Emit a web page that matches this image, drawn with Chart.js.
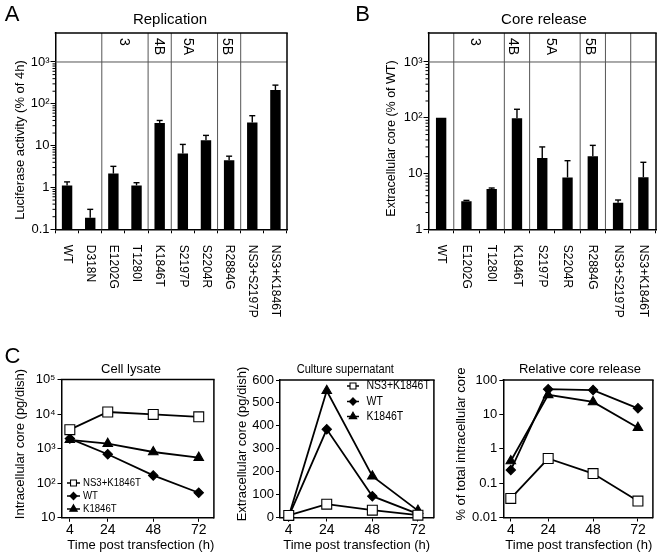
<!DOCTYPE html>
<html><head><meta charset="utf-8">
<script src="https://cdn.jsdelivr.net/npm/chart.js"></script>
<style>
html,body{margin:0;padding:0;background:#fff;}
#wrap{position:relative;width:661px;height:554px;overflow:hidden;background:#fff;}
canvas{position:absolute;}
</style></head><body>
<div id="wrap">
<canvas id="cA" width="330" height="330" style="left:0px;top:0px;width:330px;height:330px"></canvas>
<canvas id="cB" width="331" height="330" style="left:330px;top:0px;width:331px;height:330px"></canvas>
<canvas id="c1" width="222" height="224" style="left:0px;top:330px;width:222px;height:224px"></canvas>
<canvas id="c2" width="220" height="224" style="left:222px;top:330px;width:220px;height:224px"></canvas>
<canvas id="c3" width="219" height="224" style="left:442px;top:330px;width:219px;height:224px"></canvas>
</div>
<script>
// ================= DATA =================
// Panel A: Replication
const catsA = ['WT','D318N','E1202G','T1280I','K1846T','S2197P','S2204R','R2884G','NS3+S2197P','NS3+K1846T'];
const valsA = [1.12, 0.19, 2.15, 1.12, 35, 6.5, 13.5, 4.5, 36, 213];
const errA  = [1.36, 0.30, 3.2, 1.3, 40, 10.7, 17.6, 5.6, 52, 280];
const groupsA = ['3','4B','5A','5B'];
const sepsA = [2,4,5,7,8];
const yTicksA = [0.1, 1, 10, 100, 1000];
const yTickLabelsA = ['0.1','1','10','10²','10³'];

// Panel B: Core release
const catsB = ['WT','E1202G','T1280I','K1846T','S2197P','S2204R','R2884G','NS3+S2197P','NS3+K1846T'];
const valsB = [100, 3.2, 5.3, 98, 19, 8.5, 20.5, 3.0, 8.6];
const errB  = [null, 3.3, 5.5, 142, 30, 17, 32, 3.35, 15.9];
const groupsB = ['3','4B','5A','5B'];
const sepsB = [1,3,4,6,7,8];
const yTicksB = [1, 10, 100, 1000];
const yTickLabelsB = ['1','10','10²','10³'];

// Panel C: time course
const timesC = [4, 24, 48, 72];
const seriesNames = ['NS3+K1846T','WT','K1846T'];
const lysateNS3K = [3550, 11500, 9800, 8300];
const lysateWT   = [1950, 690, 168, 53];
const lysateK    = [1800, 1390, 800, 550];
const superNS3K  = [9, 58, 32, 10];
const superWT    = [5, 385, 93, 16];
const superK     = [5, 553, 180, 30];
const relNS3K    = [0.036, 0.52, 0.19, 0.030];
const relWT      = [0.24, 54, 51, 15];
const relK       = [0.44, 37, 23, 4.1];
const yTicksC1 = [10, 100, 1000, 10000, 100000];
const yTickLabelsC1 = ['10','10²','10³','10⁴','10⁵'];
const yTicksC2 = [0, 100, 200, 300, 400, 500, 600];
const yTickLabelsC2 = ['0','100','200','300','400','500','600'];
const yTicksC3 = [0.01, 0.1, 1, 10, 100];
const yTickLabelsC3 = ['0.01','0.1','1','10','100'];

// ================= HELPERS =================
const FONT = '"Liberation Sans", Arial, Helvetica, sans-serif';

function txt(ctx, s, x, y, font, o) {
  o = o || {};
  ctx.save();
  ctx.font = font; ctx.fillStyle = '#000';
  ctx.textAlign = o.align || 'center';
  ctx.textBaseline = o.base || 'middle';
  ctx.translate(x, y);
  if (o.rot) ctx.rotate(o.rot);
  if (o.sx) ctx.scale(o.sx, 1);
  ctx.fillText(s, 0, 0);
  ctx.restore();
}
function seg(ctx, x1, y1, x2, y2) { ctx.beginPath(); ctx.moveTo(x1, y1); ctx.lineTo(x2, y2); ctx.stroke(); }

function marker(ctx, style, x, y, r, fill) {
  ctx.save();
  ctx.fillStyle = fill; ctx.strokeStyle = '#000'; ctx.lineWidth = 1.1;
  ctx.beginPath();
  if (style === 'rect') {
    const s = Math.SQRT1_2 * r; ctx.rect(x - s, y - s, 2 * s, 2 * s);
  } else if (style === 'rectRot') {
    ctx.moveTo(x, y - r); ctx.lineTo(x + r, y); ctx.lineTo(x, y + r); ctx.lineTo(x - r, y); ctx.closePath();
  } else {
    let a = 0;
    ctx.moveTo(x + Math.sin(a) * r, y - Math.cos(a) * r);
    a += 2 * Math.PI / 3; ctx.lineTo(x + Math.sin(a) * r, y - Math.cos(a) * r);
    a += 2 * Math.PI / 3; ctx.lineTo(x + Math.sin(a) * r, y - Math.cos(a) * r);
    ctx.closePath();
  }
  ctx.fill(); ctx.stroke();
  ctx.restore();
}

const decor = {
  id: 'decor',
  afterDraw(chart, args, o) {
    const ctx = chart.ctx, a = chart.chartArea, x = chart.scales.x, y = chart.scales.y;
    ctx.save();
    if (o.kind === 'bar') {
      const bnd = i => (x.getPixelForValue(i - 1) + x.getPixelForValue(i)) / 2;
      ctx.strokeStyle = '#555'; ctx.lineWidth = 1;
      const yh = y.getPixelForValue(o.headerValue);
      seg(ctx, a.left, yh, a.right, yh);
      o.seps.forEach(i => { const xs = bnd(i); seg(ctx, xs, a.top, xs, a.bottom); });
      // minor ticks
      ctx.strokeStyle = '#000'; ctx.lineWidth = 1;
      for (let d = o.minorFrom; d < o.headerValue; d *= 10) {
        for (let k = 2; k <= 9; k++) { const yy = y.getPixelForValue(k * d); seg(ctx, a.left - 3, yy, a.left, yy); }
      }
      // error bars
      const meta = chart.getDatasetMeta(0);
      const vals = chart.data.datasets[0].data;
      ctx.lineWidth = 1.4;
      meta.data.forEach((bar, i) => {
        const e = o.errs[i]; if (e == null) return;
        const y0 = y.getPixelForValue(vals[i]), y1 = y.getPixelForValue(e);
        seg(ctx, bar.x, y0, bar.x, y1); seg(ctx, bar.x - 3, y1, bar.x + 3, y1);
      });
      // x labels (rotated clockwise)
      chart.data.labels.forEach((lab, i) => {
        txt(ctx, lab, x.getPixelForValue(i), a.bottom + o.labelGap, '12px ' + FONT, {rot: Math.PI / 2, align: 'left'});
      });
      // group labels in header band
      o.groups.forEach((g, i) => {
        txt(ctx, g, x.getPixelForValue(o.groupPos[i] - 0.5), o.groupY, '14px ' + FONT, {rot: Math.PI / 2, align: 'left'});
      });
    }
    // box top/right
    ctx.strokeStyle = '#000'; ctx.lineWidth = 1.5;
    seg(ctx, a.left - 0.75, a.top, a.right + 0.75, a.top);
    seg(ctx, a.right, a.top, a.right, a.bottom + 0.75);
    // legend
    if (o.legend) {
      const L = o.legend;
      L.items.forEach((it, i) => {
        const yy = L.rows[i];
        ctx.strokeStyle = '#000'; ctx.lineWidth = 1.5;
        seg(ctx, L.x0, yy, L.x1, yy);
        marker(ctx, it.style, L.mx, yy, it.r, it.fill);
        txt(ctx, it.name, L.tx, yy, L.font, {align: 'left', sx: L.sx});
      });
    }
    (o.texts || []).forEach(t => txt(ctx, t.s, t.x, t.y, t.font, t));
    ctx.restore();
  }
};

function barChart(id, cats, vals, errs, yTicks, yLabels, groups, seps, lay) {
  const cv = document.getElementById(id);
  const W = cv.width, H = cv.height;
  return new Chart(cv, {
    type: 'bar',
    data: {labels: cats, datasets: [{data: vals, backgroundColor: '#000', borderWidth: 0,
      barPercentage: lay.barPct, categoryPercentage: 1}]},
    options: {
      responsive: false, animation: false,
      layout: {padding: {left: 0, top: lay.t, right: W - lay.r, bottom: 0}},
      plugins: {legend: {display: false}, tooltip: {enabled: false}, title: {display: false},
        decor: {kind: 'bar', errs: errs, seps: seps, groups: groups, groupPos: lay.groupPos, groupY: lay.groupY,
          headerValue: 1000, minorFrom: yTicks[0], labelGap: lay.labelGap, texts: lay.texts}},
      scales: {
        x: {type: 'category', offset: true,
          grid: {display: true, offset: true, drawOnChartArea: false, drawTicks: true, tickLength: 4, color: '#000', lineWidth: 1},
          border: {display: true, color: '#000', width: 1.5},
          ticks: {display: false},
          afterFit: s => { s.height = H - lay.b; }},
        y: {type: 'logarithmic', min: lay.ymin, max: lay.ymax,
          afterBuildTicks: s => { s.ticks = yTicks.map(v => ({value: v})); },
          ticks: {callback: (v, i) => yLabels[i], font: {family: FONT, size: 13}, color: '#000', padding: 1, autoSkip: false},
          grid: {drawOnChartArea: false, drawTicks: true, tickLength: 5, color: '#000', lineWidth: 1},
          border: {display: true, color: '#000', width: 1.5},
          afterFit: s => { s.width = lay.l; }}
      }
    },
    plugins: [decor]
  });
}

function lineChart(id, series, yType, yTicks, yLabels, lay) {
  const cv = document.getElementById(id);
  const W = cv.width, H = cv.height;
  return new Chart(cv, {
    type: 'line',
    data: {datasets: series.map(s => ({
      label: s.name,
      data: timesC.map((t, i) => ({x: t, y: s.vals[i]})),
      borderColor: '#000', borderWidth: 1.8, tension: 0, fill: false, clip: false,
      pointStyle: s.style, pointRadius: s.r, pointBackgroundColor: s.fill, pointBorderColor: '#000', pointBorderWidth: 1.1
    }))},
    options: {
      responsive: false, animation: false,
      layout: {padding: {left: 0, top: lay.t, right: W - lay.r, bottom: 0}},
      plugins: {legend: {display: false}, tooltip: {enabled: false}, title: {display: false},
        decor: {kind: 'line', legend: lay.legend, texts: lay.texts}},
      scales: {
        x: {type: 'linear', min: lay.xmin, max: lay.xmax,
          afterBuildTicks: s => { s.ticks = timesC.map(v => ({value: v})); },
          ticks: {callback: v => String(v), font: {family: FONT, size: 14}, color: '#000', padding: 0, autoSkip: false, maxRotation: 0},
          grid: {drawOnChartArea: false, drawTicks: true, tickLength: 4, color: '#000', lineWidth: 1},
          border: {display: true, color: '#000', width: 1.5},
          afterFit: s => { s.height = H - lay.b; }},
        y: {type: yType, min: yTicks[0], max: yTicks[yTicks.length - 1],
          afterBuildTicks: s => { s.ticks = yTicks.map(v => ({value: v})); },
          ticks: {callback: (v, i) => yLabels[i], font: {family: FONT, size: 13}, color: '#000', padding: 2, autoSkip: false},
          grid: {drawOnChartArea: false, drawTicks: true, tickLength: 4, color: '#000', lineWidth: 1},
          border: {display: true, color: '#000', width: 1.5},
          afterFit: s => { s.width = lay.l; }}
      }
    },
    plugins: [decor]
  });
}

// ================= BUILD =================
const R = -Math.PI / 2;
barChart('cA', catsA, valsA, errA, yTicksA, yTickLabelsA, groupsA, sepsA, {
  l: 55.5, t: 33, r: 287, b: 229.3, ymin: 0.1, ymax: 4935, barPct: 0.45,
  groupPos: [2.95, 4.45, 5.7, 7.4], groupY: 38, labelGap: 15.5,
  texts: [
    {s: 'A', x: 12, y: 14.5, font: '22px ' + FONT},
    {s: 'Replication', x: 170, y: 20, font: '15px ' + FONT},
    {s: 'Luciferase activity (% of 4h)', x: 20, y: 140, font: '13px ' + FONT, rot: R}
  ]
});
barChart('cB', catsB, valsB, errB, yTicksB, yTickLabelsB, groupsB, sepsB, {
  l: 98.5, t: 33, r: 326, b: 229.3, ymin: 1, ymax: 3311, barPct: 0.41,
  groupPos: [1.85, 3.35, 4.85, 6.37], groupY: 38, labelGap: 15.5,
  texts: [
    {s: 'B', x: 32.5, y: 14.5, font: '22px ' + FONT},
    {s: 'Core release', x: 214, y: 20, font: '15px ' + FONT},
    {s: 'Extracellular core (% of WT)', x: 61.7, y: 138.5, font: '12.5px ' + FONT, rot: R}
  ]
});

const sq = {style: 'rect', r: 7, fill: '#fff'};
const dm = {style: 'rectRot', r: 4.7, fill: '#000'};
const tr = {style: 'triangle', r: 5.5, fill: '#000'};
const legItems = [
  {name: seriesNames[0], style: 'rect', r: 4.2, fill: '#fff'},
  {name: seriesNames[1], style: 'rectRot', r: 3.6, fill: '#000'},
  {name: seriesNames[2], style: 'triangle', r: 4.3, fill: '#000'}
];
const xTitle = 'Time post transfection (h)';

lineChart('c1', [
  Object.assign({name: seriesNames[0], vals: lysateNS3K}, sq),
  Object.assign({name: seriesNames[1], vals: lysateWT}, dm),
  Object.assign({name: seriesNames[2], vals: lysateK}, tr)
], 'logarithmic', yTicksC1, yTickLabelsC1, {
  l: 61.5, t: 49.5, r: 216.5, b: 187.8, xmin: -0.4, xmax: 80,
  legend: {items: legItems, rows: [153, 166, 179], x0: 67, x1: 80, mx: 73.5, tx: 83, font: '10px ' + FONT, sx: 0.96},
  texts: [
    {s: 'C', x: 12.5, y: 26.5, font: '22px ' + FONT},
    {s: 'Cell lysate', x: 131, y: 39.3, font: '13px ' + FONT},
    {s: xTitle, x: 140.8, y: 215, font: '13px ' + FONT},
    {s: 'Intracellular core (pg/dish)', x: 20, y: 114, font: '13px ' + FONT, rot: R}
  ]
});
lineChart('c2', [
  Object.assign({name: seriesNames[0], vals: superNS3K}, sq),
  Object.assign({name: seriesNames[1], vals: superWT}, dm),
  Object.assign({name: seriesNames[2], vals: superK}, tr)
], 'linear', yTicksC2, yTickLabelsC2, {
  l: 58, t: 50, r: 215, b: 187.5, xmin: -0.6, xmax: 80.4,
  legend: {items: legItems, rows: [56, 71.5, 86.5], x0: 125, x1: 137, mx: 131, tx: 144.5, font: '12.5px ' + FONT, sx: 0.84},
  texts: [
    {s: 'Culture supernatant', x: 123.3, y: 39.3, font: '13.5px ' + FONT, sx: 0.82},
    {s: xTitle, x: 134.7, y: 215, font: '13px ' + FONT},
    {s: 'Extracellular core (pg/dish)', x: 20.3, y: 114, font: '13px ' + FONT, rot: R}
  ]
});
lineChart('c3', [
  Object.assign({name: seriesNames[0], vals: relNS3K}, sq),
  Object.assign({name: seriesNames[1], vals: relWT}, dm),
  Object.assign({name: seriesNames[2], vals: relK}, tr)
], 'logarithmic', yTicksC3, yTickLabelsC3, {
  l: 61.3, t: 50, r: 215.3, b: 187.5, xmin: 0, xmax: 80,
  texts: [
    {s: 'Relative core release', x: 138, y: 39.3, font: '13px ' + FONT},
    {s: xTitle, x: 136.8, y: 215, font: '13px ' + FONT},
    {s: '% of total intracellular core', x: 19.7, y: 114, font: '13px ' + FONT, rot: R}
  ]
});
</script>
</body></html>
